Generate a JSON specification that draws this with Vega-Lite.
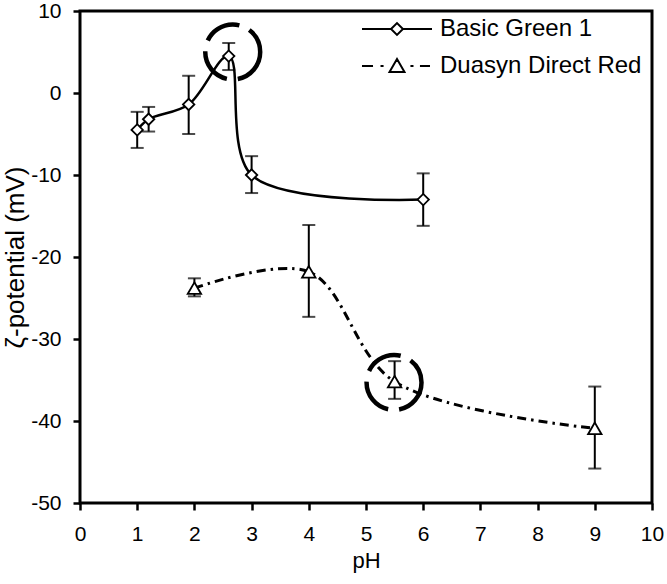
{
  "$schema": "https://vega.github.io/schema/vega-lite/v6.json",
  "width": 572,
  "height": 492,
  "autosize": "none",
  "padding": {"left": 80, "top": 11, "right": 15, "bottom": 81},
  "background": "white",
  "config": {
    "font": "Liberation Sans",
    "view": {"stroke": "black", "strokeWidth": 3},
    "axis": {
      "grid": false,
      "domain": false,
      "ticks": true,
      "tickColor": "#000000",
      "tickWidth": 2.5,
      "tickSize": 7,
      "labelColor": "black",
      "titleColor": "black",
      "labelFont": "Liberation Sans",
      "titleFont": "Liberation Sans",
      "labelFontSize": 21,
      "titleFontSize": 22,
      "titleFontWeight": "normal",
      "labelFlush": false,
      "labelOverlap": false
    }
  },
  "datasets": {
    "pts": [
      {"series": "Basic Green 1", "pH": 1.0, "z": -4.5, "lo": -6.7, "hi": -2.3},
      {"series": "Basic Green 1", "pH": 1.2, "z": -3.2, "lo": -4.7, "hi": -1.7},
      {"series": "Basic Green 1", "pH": 1.9, "z": -1.4, "lo": -5.0, "hi": 2.1},
      {"series": "Basic Green 1", "pH": 2.6, "z": 4.5, "lo": 2.8, "hi": 6.1},
      {"series": "Basic Green 1", "pH": 3.0, "z": -10.0, "lo": -12.2, "hi": -7.7},
      {"series": "Basic Green 1", "pH": 6.0, "z": -13.0, "lo": -16.2, "hi": -9.8},
      {"series": "Duasyn Direct Red", "pH": 2.0, "z": -23.8, "lo": -24.8, "hi": -22.6},
      {"series": "Duasyn Direct Red", "pH": 4.0, "z": -21.8, "lo": -27.3, "hi": -16.1},
      {"series": "Duasyn Direct Red", "pH": 5.5, "z": -35.2, "lo": -37.3, "hi": -32.7},
      {"series": "Duasyn Direct Red", "pH": 9.0, "z": -40.9, "lo": -45.8, "hi": -35.8}
    ],
    "circles": [
      {"pH": 2.67, "z": 5.0},
      {"pH": 5.49, "z": -35.3}
    ]
  },
  "data": {"name": "pts"},
  "encoding": {
    "x": {
      "field": "pH", "type": "quantitative",
      "scale": {"domain": [0, 10], "nice": false, "zero": false},
      "axis": {"title": "pH", "values": [0, 1, 2, 3, 4, 5, 6, 7, 8, 9, 10], "labelPadding": 13, "titlePadding": 6, "labelExpr": "'' + datum.value"}
    },
    "y": {
      "field": "z", "type": "quantitative",
      "scale": {"domain": [-50, 10], "nice": false, "zero": false},
      "axis": {"title": "ζ-potential (mV)", "values": [-50, -40, -30, -20, -10, 0, 10], "labelPadding": 12, "titleX": -57, "titleBaseline": "alphabetic", "titleFontSize": 26, "labelExpr": "'' + datum.value"}
    }
  },
  "layer": [
    {
      "transform": [{"filter": "datum.series === 'Basic Green 1'"}],
      "mark": {"type": "line", "interpolate": "catmull-rom", "color": "black", "strokeWidth": 2.5},
      "encoding": {}
    },
    {
      "transform": [{"filter": "datum.series === 'Duasyn Direct Red'"}],
      "mark": {"type": "line", "interpolate": "catmull-rom", "color": "black", "strokeWidth": 3, "strokeDash": [9, 5, 2.5, 5]},
      "encoding": {}
    },
    {
      "mark": {"type": "rule", "color": "black", "strokeWidth": 2},
      "encoding": {
        "y": {"field": "lo", "type": "quantitative", "title": "ζ-potential (mV)"},
        "y2": {"field": "hi"}
      }
    },
    {
      "mark": {"type": "tick", "orient": "horizontal", "color": "black", "size": 13, "thickness": 2},
      "encoding": {"y": {"field": "lo", "type": "quantitative", "title": "ζ-potential (mV)"}}
    },
    {
      "mark": {"type": "tick", "orient": "horizontal", "color": "black", "size": 13, "thickness": 2},
      "encoding": {"y": {"field": "hi", "type": "quantitative", "title": "ζ-potential (mV)"}}
    },
    {
      "transform": [{"filter": "datum.series === 'Basic Green 1'"}],
      "mark": {"type": "point", "shape": "diamond", "filled": true, "fill": "white", "stroke": "black", "strokeWidth": 1.8, "size": 130, "opacity": 1}
    },
    {
      "transform": [{"filter": "datum.series === 'Duasyn Direct Red'"}],
      "mark": {"type": "point", "shape": "triangle-up", "filled": true, "fill": "white", "stroke": "black", "strokeWidth": 1.8, "size": 180, "opacity": 1}
    },
    {
      "mark": {"type": "point", "filled": false, "stroke": "black", "strokeWidth": 2, "opacity": 1, "size": 0},
      "encoding": {
        "shape": {
          "field": "series", "type": "nominal",
          "scale": {
            "domain": ["Basic Green 1", "Duasyn Direct Red"],
            "range": [
              "M-2.06,0L-0.35,0M0.35,0L2.06,0M-0.35,0L0,-0.35L0.35,0L0,0.35Z",
              "M-2.06,0L-1.41,0M-0.97,0L-0.79,0M0.79,0L0.97,0M1.35,0L1.94,0M-0.44,0.35L0,-0.41L0.44,0.35Z"
            ]
          },
          "legend": {
            "title": null,
            "orient": "none",
            "legendX": 299,
            "legendY": 0,
            "padding": 0,
            "symbolSize": 1156,
            "symbolStrokeColor": "black",
            "symbolStrokeWidth": 2,
            "symbolOpacity": 1,
            "labelFont": "Liberation Sans",
            "labelFontSize": 24,
            "labelColor": "black",
            "labelOffset": 25,
            "labelLimit": 0,
            "rowPadding": 7
          }
        }
      }
    },
    {
      "data": {"name": "circles"},
      "mark": {"type": "point", "shape": "circle", "filled": false, "stroke": "black", "strokeWidth": 4.5, "strokeDash": [38, 11], "size": 3019, "opacity": 1}
    }
  ]
}
